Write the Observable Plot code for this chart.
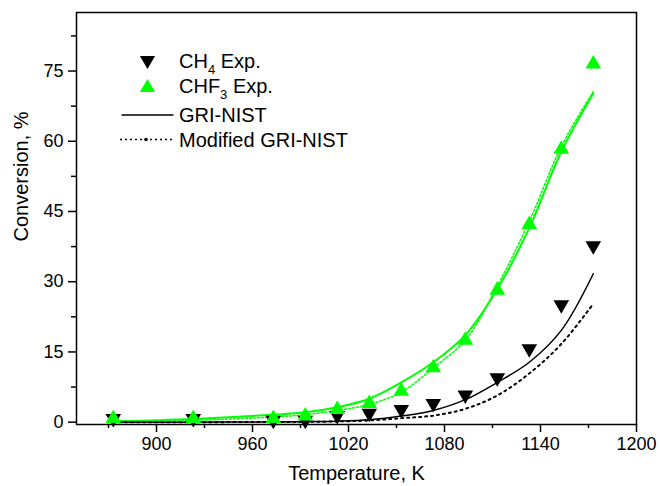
<!DOCTYPE html>
<html>
<head>
<meta charset="utf-8">
<script src="https://cdn.jsdelivr.net/npm/d3@7"></script>
<script src="https://cdn.jsdelivr.net/npm/@observablehq/plot@0.6"></script>
<style>
  html, body { margin: 0; padding: 0; background: #fff; }
  #chart svg { display: block; font-family: "Liberation Sans", Arial, sans-serif; }
</style>
</head>
<body>
<div id="chart"></div>
<script>
// Reactor temperatures (K)
const temps = [873, 923, 973, 993, 1013, 1033, 1053, 1073, 1093, 1113, 1133, 1153, 1173];

// Measured conversions (%)
const ch4Exp  = [0.8, 0.8, 0.4, 0.4, 1.4, 1.9, 2.7, 4.0, 5.8, 9.5, 15.7, 25.1, 37.7];
const chf3Exp = [0.8, 0.8, 0.8, 1.3, 2.7, 4.0, 6.6, 11.6, 17.5, 28.2, 42.2, 58.3, 76.5];

// Simulated conversions (%): GRI-NIST and modified GRI-NIST mechanisms
const ch4Gri  = [0, 0, 0.05, 0.1, 0.2, 0.5, 1.3, 2.5, 4.8, 8.5, 12.8, 19.6, 31.7];
const ch4Mod  = [0, 0, 0.03, 0.07, 0.15, 0.36, 0.85, 1.4, 2.85, 5.7, 10.4, 16.7, 25.3];
const chf3Gri = [0.2, 0.7, 1.6, 2.1, 3.2, 5.0, 8.5, 12.8, 18.6, 28.4, 41.5, 57.8, 70.2];
const chf3Mod = [0.2, 0.4, 1.1, 1.6, 2.5, 3.8, 6.4, 11.6, 17.5, 29.1, 42.9, 58.9, 70.6];

// Axis ticks
const xMajor = [900, 960, 1020, 1080, 1140, 1200];
const xMinor = [870, 930, 990, 1050, 1110, 1170];
const yMajor = [0, 15, 30, 45, 60, 75];
const yMinor = [7.5, 22.5, 37.5, 52.5, 67.5, 82.5];

const GREEN = "#00ff00";
const FONT = "Liberation Sans, Arial, sans-serif";

const rows = (vals) => temps.map((t, i) => ({t, v: vals[i]}));

const plot = Plot.plot({
  width: 660,
  height: 486,
  marginLeft: 76,
  marginRight: 24,
  marginTop: 12,
  marginBottom: 62,
  style: {fontFamily: FONT, color: "black", background: "white"},
  x: {domain: [850, 1200]},
  y: {domain: [-0.5, 87.5]},
  marks: [
    Plot.axisX({ticks: xMinor, tickSize: 4, strokeWidth: 1.5, text: null, label: null}),
    Plot.axisX({ticks: xMajor, tickSize: 8, strokeWidth: 1.5, tickPadding: 5, fontSize: 18, tickFormat: d => String(d), label: null}),
    Plot.axisY({ticks: yMinor, tickSize: 5, strokeWidth: 1.5, text: null, label: null}),
    Plot.axisY({ticks: yMajor, tickSize: 8, strokeWidth: 1.5, tickPadding: 5, fontSize: 18, tickFormat: d => String(d), label: null}),
    Plot.text(["Temperature, K"], {frameAnchor: "bottom", dy: 55, fontSize: 20}),
    Plot.text(["Conversion, %"], {frameAnchor: "left", dx: -55, dy: 23, rotate: -90, fontSize: 20}),

    // model curves
    Plot.line(rows(chf3Gri), {x: "t", y: "v", stroke: GREEN, strokeWidth: 2, curve: "catmull-rom"}),
    Plot.line(rows(chf3Mod), {x: "t", y: "v", stroke: GREEN, strokeWidth: 1.5, strokeDasharray: "2,2", curve: "catmull-rom"}),
    Plot.line(rows(ch4Gri), {x: "t", y: "v", stroke: "black", strokeWidth: 1.5, curve: "catmull-rom"}),
    Plot.line(rows(ch4Mod), {x: "t", y: "v", stroke: "black", strokeWidth: 2, strokeDasharray: "2,4", curve: "catmull-rom"}),

    // experiments
    Plot.dot(rows(ch4Exp), {x: "t", y: "v", symbol: "triangle", r: 5.8, fill: "black", stroke: "none", rotate: 180}),
    Plot.dot(rows(chf3Exp), {x: "t", y: "v", symbol: "triangle", r: 5.8, fill: GREEN, stroke: "none"}),

    Plot.frame({stroke: "black", strokeWidth: 1.5})
  ]
});

// Legend
const svg = d3.select(plot);
const lg = svg.append("g")
  .attr("font-family", FONT)
  .attr("font-size", 20)
  .attr("text-anchor", "start")
  .attr("fill", "black");
const tri = d3.symbol(d3.symbolTriangle, 100);
lg.append("path").attr("d", tri()).attr("transform", "translate(147.5,60.3) rotate(180)").attr("fill", "black");
lg.append("path").attr("d", tri()).attr("transform", "translate(147.5,87.7)").attr("fill", GREEN);

function subLabel(y, main, sub, rest) {
  const t = lg.append("text").attr("x", 179).attr("y", y);
  t.append("tspan").text(main);
  t.append("tspan").attr("font-size", 13).attr("dy", 6).text(sub);
  t.append("tspan").attr("dy", -6).text(rest);
}
subLabel(67.5, "CH", "4", " Exp.");
subLabel(93, "CHF", "3", " Exp.");

lg.append("line").attr("x1", 121.5).attr("x2", 173.5).attr("y1", 115).attr("y2", 115)
  .attr("stroke", "black").attr("stroke-width", 1.5);
lg.append("text").attr("x", 179).attr("y", 121.5).text("GRI-NIST");

lg.append("line").attr("x1", 120).attr("x2", 172).attr("y1", 139.5).attr("y2", 139.5)
  .attr("stroke", "black").attr("stroke-width", 1.5).attr("stroke-dasharray", "2,3");
lg.append("circle").attr("cx", 146).attr("cy", 139.5).attr("r", 1.8).attr("fill", "black");
lg.append("text").attr("x", 179).attr("y", 146.5).text("Modified GRI-NIST");

document.getElementById("chart").appendChild(plot);
</script>
</body>
</html>
